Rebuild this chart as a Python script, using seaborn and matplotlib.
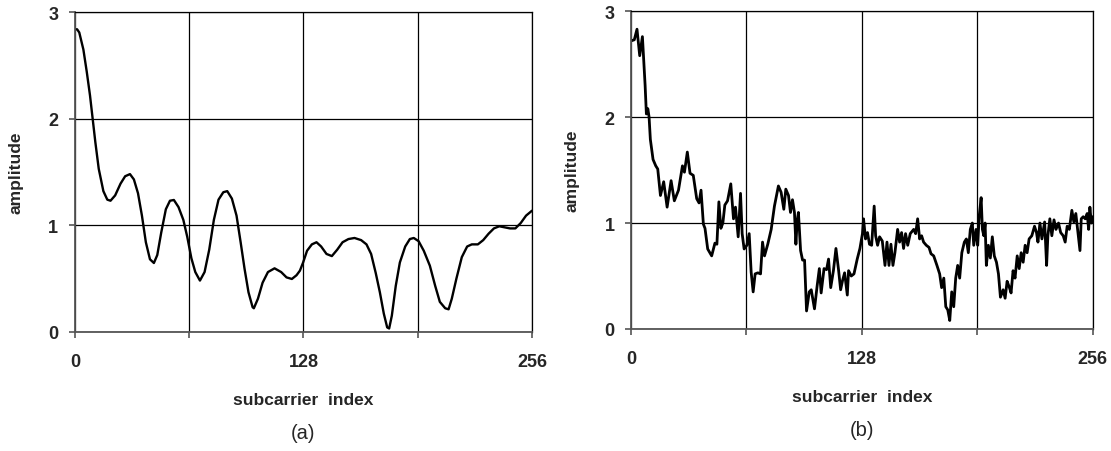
import matplotlib
matplotlib.use("Agg")
import matplotlib.pyplot as plt
import seaborn as sns
import pandas as pd

# panel (a): smooth channel amplitude
a_index = [0, 1.2, 2.4, 4.7, 6.6, 8.4, 9.9, 11.4, 13.3, 15.9, 18.1, 19.9, 22.5, 25.5, 28.1,
           30.8, 33.0, 35.3, 37.5, 39.7, 42.0, 44.2, 46.1, 48.3, 50.9, 53.2, 55.4, 58.0,
           60.7, 62.9, 65.2, 67.4, 70.0, 72.6, 75.2, 77.8, 80.4, 83.1, 85.3, 87.9, 90.5,
           92.8, 95.0, 97.2, 99.5, 100.2, 102.5, 105.1, 108.1, 111.8, 115.5, 118.5, 121.5,
           124.1, 126.0, 127.8, 130.0, 132.7, 135.3, 137.9, 140.9, 143.9, 146.9, 149.9,
           153.2, 156.6, 160.3, 163.3, 165.9, 168.5, 170.8, 173.0, 174.9, 176.0, 177.5,
           179.7, 182.0, 185.0, 187.6, 189.8, 192.5, 195.4, 198.8, 201.8, 204.4, 207.4,
           209.3, 211.1, 213.7, 216.7, 219.7, 222.3, 225.7, 228.7, 231.7, 234.7, 237.7,
           240.7, 243.7, 246.7, 249.7, 252.7, 256]
a_amp = [2.84, 2.84, 2.81, 2.65, 2.44, 2.22, 2.0, 1.78, 1.53, 1.32, 1.24, 1.23, 1.28, 1.39, 1.46,
         1.48, 1.43, 1.30, 1.09, 0.84, 0.68, 0.645, 0.72, 0.93, 1.15, 1.23, 1.237, 1.17,
         1.05, 0.89, 0.69, 0.56, 0.48, 0.56, 0.77, 1.05, 1.24, 1.31, 1.32, 1.25, 1.09,
         0.84, 0.59, 0.37, 0.23, 0.22, 0.31, 0.46, 0.56, 0.595, 0.56, 0.51, 0.495,
         0.53, 0.573, 0.65, 0.76, 0.82, 0.84, 0.80, 0.73, 0.71, 0.77, 0.84,
         0.87, 0.88, 0.86, 0.82, 0.73, 0.55, 0.37, 0.17, 0.04, 0.03, 0.15,
         0.43, 0.65, 0.80, 0.87, 0.88, 0.85, 0.76, 0.62, 0.43, 0.28, 0.22,
         0.21, 0.31, 0.50, 0.70, 0.80, 0.82, 0.82, 0.86, 0.92, 0.97, 0.99,
         0.98, 0.97, 0.97, 1.02, 1.09, 1.136]

# panel (b): noisy estimate
b_index = [0, 1.8, 3.3, 4.8, 6.3, 7.0, 7.8, 8.5, 9.3, 10.0, 10.7, 12.2, 13.7, 14.8, 16.3, 18.1,
           20.0, 22.2, 24.0, 26.3, 28.5, 29.6, 31.2, 32.7, 34.5, 36.4, 37.7, 38.8, 40.1,
           41.0, 42.5, 44.7, 46.5, 47.6, 48.7, 49.8, 50.9, 52.0, 53.5, 55.3, 56.8, 57.9,
           59.4, 60.7, 61.6, 62.7, 64.2, 65.5, 66.6, 67.7, 68.8, 70.3, 71.8, 72.9, 74.0,
           75.8, 77.7, 79.5, 81.7, 83.2, 84.7, 85.8, 87.3, 88.4, 89.5, 90.6, 91.4, 92.1,
           92.8, 94.0, 95.1, 96.2, 97.3, 98.8, 99.9, 101.7, 103.2, 104.4, 105.4, 107.0,
           108.4, 109.5, 110.7, 112.2, 113.6, 115.1, 116.2, 117.3, 118.4, 119.9, 120.6,
           122.1, 123.6, 125.4, 126.9, 128.3, 128.9, 130.0, 131.1, 132.2, 133.4, 134.8,
           135.6, 136.7, 137.8, 139.3, 140.8, 141.9, 143.0, 144.1, 145.2, 146.3, 147.8,
           148.9, 150.0, 151.1, 152.2, 153.4, 154.8, 156.7, 157.8, 158.9, 160.0, 161.1,
           162.2, 163.7, 165.2, 166.3, 167.8, 169.6, 171.1, 172.2, 173.4, 174.5, 175.6,
           176.7, 177.8, 178.9, 180.0, 181.1, 182.2, 183.4, 184.8, 185.9, 187.0, 188.1,
           189.2, 190.0, 191.3, 192.2, 193.0, 194.1, 194.8, 195.6, 196.3, 197.0, 198.1,
           199.2, 200.3, 201.4, 202.6, 203.7, 204.8, 206.3, 207.4, 208.5, 209.6, 210.7,
           211.8, 212.9, 214.1, 215.2, 216.3, 217.4, 218.5, 219.6, 220.7, 222.2, 223.7,
           224.8, 225.6, 226.7, 227.8, 229.3, 230.4, 231.1, 232.2, 233.3, 234.5, 235.6,
           237.0, 238.2, 239.6, 240.7, 241.8, 243.0, 244.4, 245.5, 246.6, 247.8, 248.9,
           249.6, 250.7, 251.8, 252.9, 253.7, 254.4, 255.2, 256]
b_amp = [2.72, 2.73, 2.83, 2.58, 2.76, 2.55, 2.30, 2.03, 2.08, 2.0, 1.79, 1.60, 1.54, 1.51, 1.26, 1.39,
         1.15, 1.40, 1.21, 1.31, 1.54, 1.48, 1.67, 1.47, 1.45, 1.23, 1.19, 1.31, 0.99,
         0.95, 0.755, 0.69, 0.81, 0.80, 1.20, 0.95, 1.0, 1.17, 1.21, 1.37, 1.04, 1.15,
         0.87, 1.28, 0.90, 0.755, 0.79, 0.90, 0.535, 0.35, 0.52, 0.53, 0.52, 0.82, 0.69,
         0.80, 0.94, 1.16, 1.35, 1.29, 1.13, 1.32, 1.26, 1.10, 1.22, 1.10, 0.80, 1.02,
         1.10, 0.74, 0.65, 0.65, 0.17, 0.35, 0.37, 0.19, 0.41, 0.57, 0.34, 0.57,
         0.56, 0.66, 0.39, 0.55, 0.76, 0.55, 0.37, 0.46, 0.53, 0.32, 0.55,
         0.50, 0.52, 0.66, 0.76, 0.90, 1.04, 0.85, 0.91, 0.80, 0.79, 1.16,
         0.88, 0.79, 0.87, 0.83, 0.60, 0.82, 0.60, 0.80, 0.60, 0.72, 0.94,
         0.82, 0.91, 0.76, 0.90, 0.79, 0.90, 0.94, 0.90, 1.04, 0.85, 0.88,
         0.82, 0.79, 0.77, 0.71, 0.69, 0.60, 0.52, 0.39, 0.48, 0.21, 0.18,
         0.08, 0.35, 0.21, 0.48, 0.60, 0.48, 0.72, 0.82, 0.85, 0.72, 0.94,
         1.0, 0.79, 0.94, 0.79, 1.06, 1.24, 0.94, 0.88, 1.0, 0.60, 0.79,
         0.67, 0.87, 0.69, 0.63, 0.52, 0.30, 0.37, 0.29, 0.45, 0.40, 0.34,
         0.55, 0.48, 0.69, 0.57, 0.72, 0.63, 0.79, 0.72, 0.85, 0.88, 0.97,
         0.91, 0.82, 1.0, 0.85, 1.01, 0.60, 0.88, 1.04, 0.88, 1.03, 0.94,
         1.0, 0.91, 0.88, 0.82, 0.97, 0.94, 1.12, 1.01, 1.09, 0.91, 0.74,
         1.04, 1.06, 1.04, 1.09, 0.94, 1.15, 1.0, 1.06]

x_ticks = [0, 64, 128, 192, 256]
x_labels = ["0", "", "128", "", "256"]
y_ticks = [0, 1, 2, 3]

sns.set_style("white")
plt.rcParams["font.family"] = ["Liberation Sans", "DejaVu Sans"]

fig = plt.figure(figsize=(11.11, 4.52), dpi=100)
ax_a = fig.add_axes([0.0675, 0.264, 0.4113, 0.7066])
ax_b = fig.add_axes([0.568, 0.270, 0.4156, 0.703])

panels = [(ax_a, a_index, a_amp, "(a)", 1.7), (ax_b, b_index, b_amp, "(b)", 2.0)]
for ax, xs, ys, tag, lw in panels:
    df = pd.DataFrame({"index": xs, "amp": ys})
    sns.lineplot(data=df, x="index", y="amp", ax=ax, color="black",
                 linewidth=lw, estimator=None, sort=False)
    ax.set_xlim(0, 256)
    ax.set_ylim(0, 3)
    ax.set_xticks(x_ticks)
    ax.set_xticklabels(x_labels)
    ax.set_yticks(y_ticks)
    ax.grid(True, color="black", linewidth=0.9)
    ax.set_axisbelow(True)
    for side in ["top", "right"]:
        ax.spines[side].set_color("black")
        ax.spines[side].set_linewidth(0.9)
    for side in ["left", "bottom"]:
        ax.spines[side].set_color("#555555")
        ax.spines[side].set_linewidth(1.3)
    ax.tick_params(axis="both", direction="out", length=4, width=1.2, color="#555555",
                   labelsize=13, bottom=True, left=True)
    ax.tick_params(axis="x", pad=11)
    ax.tick_params(axis="y", pad=8)
    for lab in ax.get_xticklabels() + ax.get_yticklabels():
        lab.set_fontweight("bold")
    ax.set_xlabel("subcarrier  index", fontsize=12.5, fontweight="bold", labelpad=16)
    ax.set_ylabel("amplitude", fontsize=12.5, fontweight="bold", labelpad=18)
    ax.text(0.5, -0.315, tag, transform=ax.transAxes, ha="center", va="center", fontsize=14.5)

fig.savefig("out.png", dpi=100)
